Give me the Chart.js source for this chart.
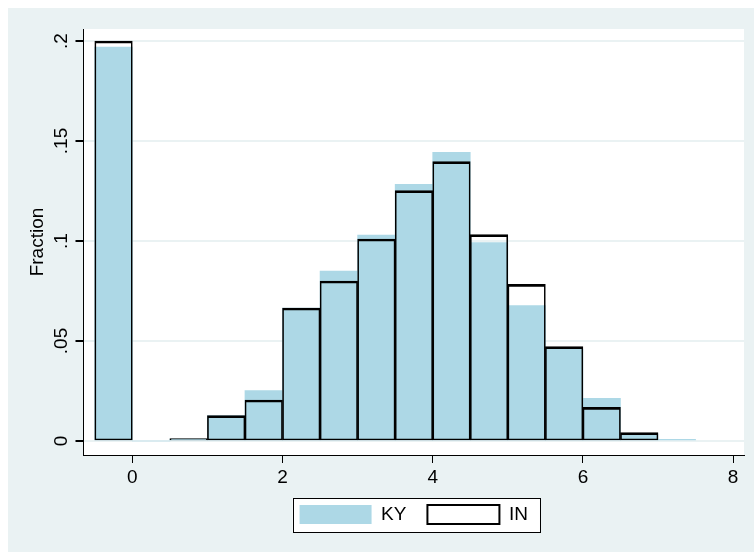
<!DOCTYPE html>
<html>
<head>
<meta charset="utf-8">
<script src="https://cdn.jsdelivr.net/npm/chart.js@4"></script>
<style>
  html, body { margin: 0; padding: 0; background: #fff; }
  #wrap { width: 754px; height: 552px; }
</style>
</head>
<body>
<div id="wrap"><canvas id="histChart" width="754" height="552"></canvas></div>
<script>
// bin midpoints (width 0.5)
const binCenters = [-0.25, 0.25, 0.75, 1.25, 1.75, 2.25, 2.75, 3.25, 3.75, 4.25, 4.75, 5.25, 5.75, 6.25, 6.75, 7.25];
const kyFraction = [0.197, 0, 0.001, 0.0127, 0.0252, 0.0665, 0.085, 0.103, 0.1283, 0.1443, 0.0992, 0.0677, 0.046, 0.0213, 0.0035, 0.0008];
const inFraction = [0.200, 0, 0.0012, 0.0127, 0.0205, 0.0665, 0.080, 0.101, 0.1252, 0.1397, 0.1032, 0.0783, 0.0472, 0.0168, 0.0042, 0.0005];
const xTicks = [0, 2, 4, 6, 8];
const yTicks = [0, 0.05, 0.1, 0.15, 0.2];

const toPoints = vals => binCenters.map((x, i) => ({ x: x, y: vals[i] }));
const FONT = { family: "Liberation Sans", size: 19 };

// stata-like backgrounds + bordered legend box
const backdrop = {
  id: "backdrop",
  beforeDraw(chart) {
    const ctx = chart.ctx;
    const a = chart.chartArea;
    ctx.save();
    ctx.fillStyle = "#eaf2f3";
    ctx.fillRect(8, 8, chart.width - 8, chart.height - 8);
    ctx.fillStyle = "#ffffff";
    ctx.fillRect(a.left, a.top, a.right - a.left, a.bottom - a.top);
    const boxes = chart.legend.legendHitBoxes;
    if (boxes && boxes.length) {
      const l = Math.min(...boxes.map(b => b.left)) - 7;
      const r = Math.max(...boxes.map(b => b.left + b.width)) + 12;
      const t = Math.min(...boxes.map(b => b.top)) - 7;
      const btm = Math.max(...boxes.map(b => b.top + b.height)) + 8;
      ctx.fillStyle = "#ffffff";
      ctx.fillRect(l, t, r - l, btm - t);
      ctx.strokeStyle = "#000";
      ctx.lineWidth = 1;
      ctx.strokeRect(Math.round(l) + 0.5, Math.round(t) + 0.5, Math.round(r - l), Math.round(btm - t));
    }
    ctx.restore();
  }
};

new Chart(document.getElementById("histChart"), {
  type: "bar",
  data: {
    datasets: [{
      label: "KY",
      data: toPoints(kyFraction),
      backgroundColor: "#add8e6",
      borderWidth: 0,
      order: 1
    }, {
      label: "IN",
      data: toPoints(inFraction),
      backgroundColor: "rgba(0,0,0,0)",
      borderColor: "#000",
      borderWidth: { top: 2, left: 1, right: 1, bottom: 1 },
      borderSkipped: false,
      order: 0
    }]
  },
  options: {
    responsive: false,
    animation: false,
    grouped: false,
    barPercentage: 1,
    categoryPercentage: 1,
    layout: { padding: { left: 8, right: 10, top: 29, bottom: 18 } },
    plugins: {
      tooltip: { enabled: false },
      legend: {
        position: "bottom",
        fullSize: false,
        labels: {
          boxWidth: 72,
          boxHeight: 19,
          padding: 21,
          color: "#000",
          font: FONT,
          generateLabels: chart => chart.data.datasets.map((ds, i) => ({
            text: ds.label,
            datasetIndex: i,
            fillStyle: i === 0 ? "#add8e6" : "#ffffff",
            strokeStyle: i === 0 ? "#add8e6" : "#000",
            lineWidth: i === 0 ? 0 : 2,
            fontColor: "#000"
          }))
        }
      }
    },
    scales: {
      x: {
        type: "linear",
        min: -0.65,
        max: 8.145,
        offset: false,
        afterBuildTicks: s => { s.ticks = xTicks.map(v => ({ value: v })); },
        afterFit: s => { s.height = 29; },
        grid: { offset: false, drawOnChartArea: false, color: "#000", tickColor: "#000", tickLength: 8 },
        border: { color: "#000", width: 1 },
        ticks: { color: "#000", padding: 3, maxRotation: 0, font: FONT }
      },
      y: {
        min: -0.007,
        max: 0.206,
        afterBuildTicks: s => { s.ticks = yTicks.map(v => ({ value: v })); },
        afterFit: s => { s.width = 75.5; },
        grid: { color: "#eaf2f3", lineWidth: 2, tickColor: "#000", tickLength: 8 },
        border: { color: "#000", width: 1 },
        title: { display: true, text: "Fraction", color: "#000", padding: { top: 18, bottom: 4 }, font: FONT },
        ticks: {
          color: "#000",
          minRotation: 90,
          maxRotation: 90,
          crossAlign: "center",
          padding: 1,
          font: FONT,
          callback: v => v === 0 ? "0" : String(v).replace(/^0/, "")
        }
      }
    }
  },
  plugins: [backdrop]
});
</script>
</body>
</html>
